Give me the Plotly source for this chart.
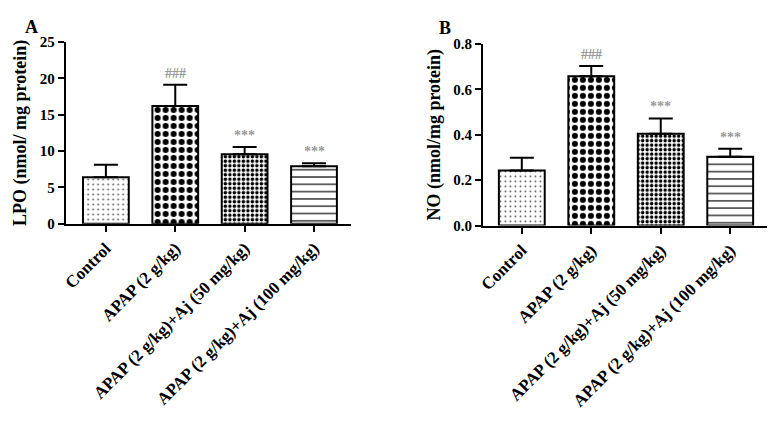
import plotly.graph_objects as go

categories = ["Control", "APAP (2 g/kg)", "APAP (2 g/kg)+Aj (50 mg/kg)", "APAP (2 g/kg)+Aj (100 mg/kg)"]
lpo_mean = [6.4, 16.2, 9.55, 7.9]
lpo_sd = [1.7, 2.9, 1.0, 0.4]
no_mean = [0.243, 0.658, 0.404, 0.303]
no_sd = [0.056, 0.045, 0.068, 0.035]
lpo_sig = ["", "###", "***", "***"]
no_sig = ["", "###", "***", "***"]
lpo_ticks = [0, 5, 10, 15, 20, 25]
no_ticks = [0.0, 0.2, 0.4, 0.6, 0.8]

OFF = 8  # page body margin
W, H = 780 - 2 * OFF, 431 - 2 * OFF
FONT = "Liberation Serif"

patterns = [
    dict(shape=".", size=5, solidity=0.1, fgcolor="#555555", bgcolor="white", fillmode="replace"),
    dict(shape=".", size=8, solidity=0.45, fgcolor="black", bgcolor="white", fillmode="replace"),
    dict(shape=".", size=4.5, solidity=0.45, fgcolor="black", bgcolor="white", fillmode="replace"),
    dict(shape="-", size=7.3, solidity=0.2, fgcolor="#333333", bgcolor="white", fillmode="replace"),
]

fig = go.Figure()

def add_panel(means, sds, xa, ya):
    for i, c in enumerate(categories):
        fig.add_trace(go.Bar(
            x=[c], y=[means[i]],
            width=0.66,
            marker=dict(color="white", line=dict(color="black", width=2), pattern=patterns[i]),
            error_y=dict(type="data", symmetric=False, array=[sds[i]], arrayminus=[0],
                         color="black", thickness=2, width=12),
            xaxis=xa, yaxis=ya, showlegend=False,
        ))

add_panel(lpo_mean, lpo_sd, "x", "y")
add_panel(no_mean, no_sd, "x2", "y2")

def px_x(p):
    return (p - OFF) / W

def px_y(p):
    return 1 - (p - OFF) / H

axis_common = dict(
    showgrid=False, zeroline=False, showline=True, linecolor="black", linewidth=2,
    ticks="outside", ticklen=6, tickwidth=2, tickcolor="black",
    tickfont=dict(family=FONT, size=15, color="black", weight="bold"),
)

xcommon = dict(axis_common, type="category", categoryorder="array", categoryarray=categories,
               tickangle=-45, tickfont=dict(family=FONT, size=17, color="black", weight="bold"))

title_font = dict(family=FONT, size=18, color="black", weight="bold")

fig.update_layout(
    width=W, height=H,
    margin=dict(l=0, r=0, t=0, b=0),
    paper_bgcolor="white", plot_bgcolor="white",
    xaxis=dict(xcommon, domain=[px_x(61), px_x(348)], anchor="y", range=[-0.58, 3.53]),
    yaxis=dict(axis_common, domain=[px_y(224), px_y(35)], anchor="x", range=[0, 25],
               tickvals=lpo_ticks, ticktext=[str(t) for t in lpo_ticks],
               title=dict(text="LPO (nmol/ mg protein)", standoff=8, font=title_font)),
    xaxis2=dict(xcommon, domain=[px_x(481), px_x(767)], anchor="y2", range=[-0.56, 3.53]),
    yaxis2=dict(axis_common, domain=[px_y(226), px_y(37)], anchor="x2", range=[0, 0.8],
                tickvals=no_ticks, ticktext=["%.1f" % t for t in no_ticks],
                title=dict(text="NO (nmol/mg protein)", standoff=8, font=title_font)),
)

sig_font = dict(family=FONT, size=14, color="#999999", weight="bold")
ann = []
for i, c in enumerate(categories):
    if lpo_sig[i]:
        ann.append(dict(x=c, y=lpo_mean[i] + lpo_sd[i], xref="x", yref="y", text=lpo_sig[i],
                        showarrow=False, yanchor="bottom", yshift=2, font=sig_font))
    if no_sig[i]:
        ann.append(dict(x=c, y=no_mean[i] + no_sd[i], xref="x2", yref="y2", text=no_sig[i],
                        showarrow=False, yanchor="bottom", yshift=2, font=sig_font))
ann.append(dict(x=px_x(27), y=px_y(19), xref="paper", yref="paper", text="A", showarrow=False,
                xanchor="center", yanchor="middle",
                font=dict(family=FONT, size=18, color="black", weight="bold")))
ann.append(dict(x=px_x(443), y=px_y(20), xref="paper", yref="paper", text="B", showarrow=False,
                xanchor="center", yanchor="middle",
                font=dict(family=FONT, size=18, color="black", weight="bold")))
fig.update_layout(annotations=ann)

fig.write_html("out.html")
